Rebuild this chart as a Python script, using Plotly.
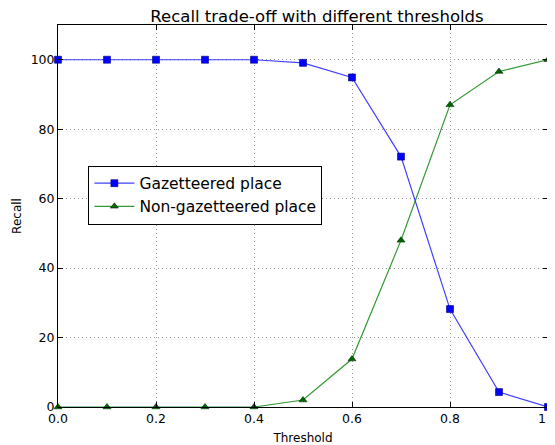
import plotly.graph_objects as go

thresholds = [0.0, 0.1, 0.2, 0.3, 0.4, 0.5, 0.6, 0.7, 0.8, 0.9, 1.0]
gazetteered = [100, 100, 100, 100, 100, 99.1, 94.9, 72.1, 28.2, 4.3, 0.0]
non_gazetteered = [0, 0, 0, 0, 0, 2.0, 13.8, 48.0, 87.0, 96.6, 100]

fig = go.Figure()
fig.add_trace(go.Scatter(
    x=thresholds, y=gazetteered, mode="lines+markers", name="Gazetteered place",
    line=dict(color="rgba(0,0,255,0.75)", width=1.2),
    marker=dict(symbol="square", size=7, color="#0000ff", line=dict(color="#000080", width=0.6)),
    cliponaxis=False,
))
fig.add_trace(go.Scatter(
    x=thresholds, y=non_gazetteered, mode="lines+markers", name="Non-gazetteered place",
    line=dict(color="rgba(0,128,0,0.8)", width=1.2),
    marker=dict(symbol="triangle-up", size=7, color="#006400", line=dict(color="#003300", width=0.6)),
    cliponaxis=False,
))

axis_common = dict(
    showline=True, linecolor="black", linewidth=1, mirror="ticks",
    ticks="inside", ticklen=5, tickcolor="black",
    showgrid=True, gridcolor="#999999", griddash="1px,3px", gridwidth=1,
    zeroline=False, automargin=False, ticklabeloverflow="allow",
    tickfont=dict(family="DejaVu Sans", size=12.5, color="black"),
)
fig.update_xaxes(range=[0, 1.0], tickvals=[0, 0.2, 0.4, 0.6, 0.8, 1.0],
                 ticktext=["0.0", "0.2", "0.4", "0.6", "0.8", "1.0"],
                 title=dict(text="Threshold", font=dict(family="DejaVu Sans", size=12, color="black"), standoff=8),
                 **axis_common)
fig.update_yaxes(range=[0, 110], tickvals=[0, 20, 40, 60, 80, 100],
                 title=dict(text="Recall", font=dict(family="DejaVu Sans", size=12, color="black"), standoff=6),
                 **axis_common)

fig.update_layout(
    width=547, height=437,
    margin=dict(l=50, r=7, t=17, b=38, autoexpand=False),
    paper_bgcolor="white", plot_bgcolor="white",
    title=dict(text="Recall trade-off with different thresholds", x=309 / 547, xanchor="center",
               y=1 - 8.5 / 437, yanchor="middle",
               font=dict(family="DejaVu Sans", size=16.5, color="black")),
    legend=dict(x=0.062, y=0.632, xanchor="left", yanchor="top",
                bgcolor="white", bordercolor="black", borderwidth=1,
                font=dict(family="DejaVu Sans", size=15.5, color="black"),
                itemwidth=40, tracegroupgap=0),
    showlegend=True,
)

fig.write_html("out.html")
